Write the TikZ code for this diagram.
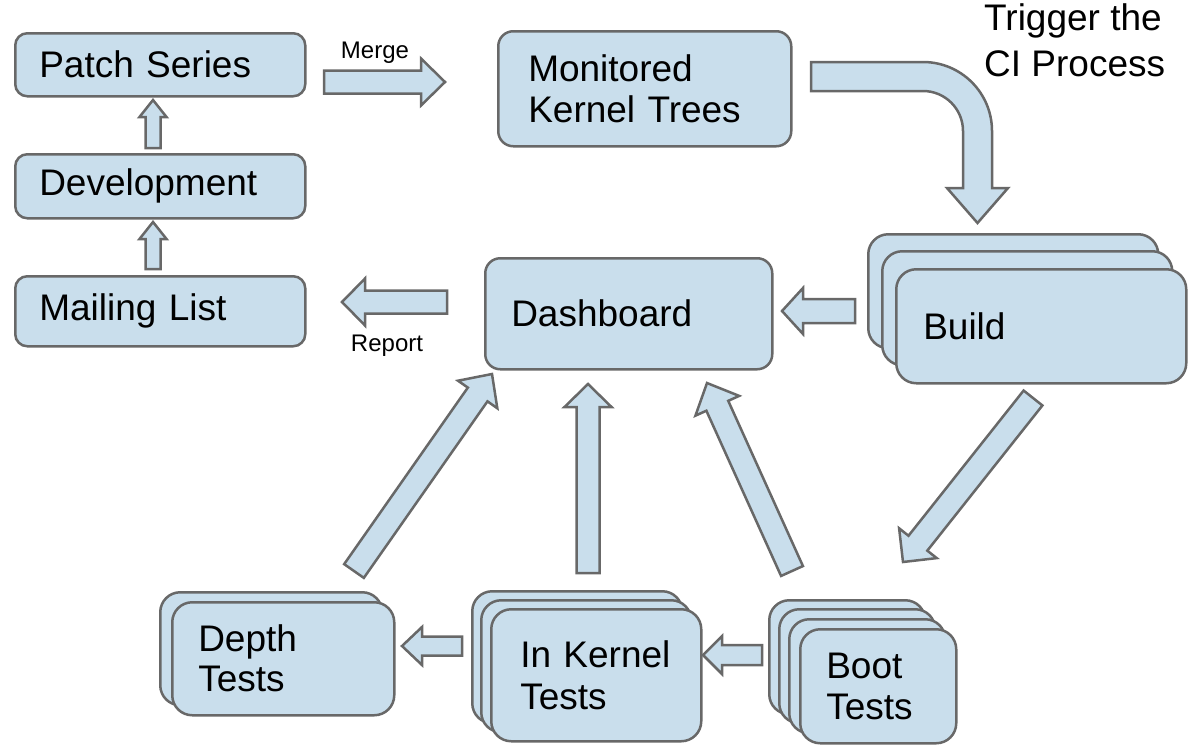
\documentclass[tikz,border=0pt]{standalone}
\usepackage{fontspec}
\setmainfont{Liberation Sans}
\usetikzlibrary{calc}
\definecolor{boxfill}{RGB}{201,222,236}
\definecolor{boxline}{RGB}{104,104,104}
\tikzset{
  box/.style={draw=boxline, fill=boxfill, line width=2.5pt, rounded corners=12pt,
    inner ysep=0pt, anchor=north west, align=left, font=\fontsize{37}{41}\selectfont},
  stackbox/.style={box, rounded corners=20pt},
  fat/.style={draw=boxline, fill=boxfill, line width=2.5pt, line join=miter},
  lbl/.style={font=\fontsize{24}{28}\selectfont, inner sep=0pt},
}
% #1 tail, #2 tip, #3 shaft half width, #4 head half width, #5 head length
\newcommand{\fatarrow}[5]{%
  \coordinate (#1-base) at ($(#2)!#5pt!(#1)$);
  \path[fat] ($(#1)!#3pt!90:(#2)$) -- ($(#1-base)!#3pt!90:(#2)$)
    -- ($(#1-base)!#4pt!90:(#2)$) -- (#2) -- ($(#1-base)!#4pt!-90:(#2)$)
    -- ($(#1-base)!#3pt!-90:(#2)$) -- ($(#1)!#3pt!-90:(#2)$) -- cycle;
}
\begin{document}
\begin{tikzpicture}[x=1pt,y=-1pt]
\useasboundingbox (0,0) rectangle (1188,744);

% left column
\node[box, minimum height=63pt, inner xsep=24pt, text width=242pt] (ps) at (14,32) {Patch Series};
\node[box, minimum height=64pt, inner xsep=24pt, text width=242pt] (dev) at (14,153) {Development};
\node[box, minimum height=70pt, inner xsep=24pt, text width=242pt] (ml) at (14,275) {Mailing List};

% main boxes
\node[box, rounded corners=15pt, minimum height=115pt, inner xsep=30pt, text width=233pt] (mkt) at (497,30) {Monitored\\Kernel Trees};
\node[box, rounded corners=15pt, minimum height=111pt, inner xsep=26pt, text width=235pt] (dash) at (484,257) {Dashboard};

% Build stack
\node[stackbox, minimum height=114pt, inner xsep=0pt, text width=290pt] (b1) at (867,233) {};
\node[stackbox, minimum height=114pt, inner xsep=0pt, text width=290pt] (b2) at (881,250) {};
\node[stackbox, minimum height=114pt, inner xsep=27pt, text width=236pt] (build) at (895,268) {Build};

% Depth Tests stack
\node[stackbox, minimum height=113pt, inner xsep=0pt, text width=222pt] (d1) at (159,591) {};
\node[stackbox, minimum height=113pt, inner xsep=26pt, text width=170pt, font=\fontsize{37}{40}\selectfont] (depth) at (171,601) {Depth\\Tests};

% In Kernel Tests stack
\node[stackbox, minimum height=132pt, inner xsep=0pt, text width=210pt] (k1) at (471,590) {};
\node[stackbox, minimum height=132pt, inner xsep=0pt, text width=210pt] (k2) at (480,599) {};
\node[stackbox, minimum height=132pt, inner xsep=29pt, text width=152pt, font=\fontsize{37}{42}\selectfont] (ikt) at (490,608) {In Kernel\\Tests};

% Boot Tests stack
\node[stackbox, minimum height=114pt, inner xsep=0pt, text width=156pt] (t1) at (768,599) {};
\node[stackbox, minimum height=114pt, inner xsep=0pt, text width=156pt] (t2) at (778,608) {};
\node[stackbox, minimum height=114pt, inner xsep=0pt, text width=156pt] (t3) at (788,618) {};
\node[stackbox, minimum height=114pt, inner xsep=26pt, text width=104pt, font=\fontsize{37}{41}\selectfont] (boot) at (799,628) {Boot\\Tests};

% free text
\node[anchor=north west, inner sep=0pt, align=left, font=\fontsize{37}{46}\selectfont] (trig) at (984,3) {Trigger the\\CI Process};
\node[lbl] (merge) at (375,53) {Merge};
\node[lbl] (report) at (387,346) {Report};

% arrow end points
\coordinate (a1t) at (153,148); \coordinate (a1h) at (153,100);
\coordinate (a2t) at (153,269); \coordinate (a2h) at (153,222);
\coordinate (mt) at (324,82);  \coordinate (mh) at (445,82);
\coordinate (rt) at (447,302); \coordinate (rh) at (342,302);
\coordinate (bdt) at (855,311); \coordinate (bdh) at (782,311);
\coordinate (bbt) at (1033,398); \coordinate (bbh) at (903,562);
\coordinate (dlt) at (354,571); \coordinate (dlh) at (492,374);
\coordinate (dmt) at (588,573); \coordinate (dmh) at (588,384);
\coordinate (drt) at (792,571); \coordinate (drh) at (707,383);
\coordinate (ikt-t) at (462,646); \coordinate (ikt-h) at (402,646);
\coordinate (btt) at (762,655); \coordinate (bth) at (703,655);

\fatarrow{a1t}{a1h}{7.5}{13.5}{17}
\fatarrow{a2t}{a2h}{7.5}{13.5}{17}
\fatarrow{mt}{mh}{11.5}{23.5}{24}
\fatarrow{rt}{rh}{11.5}{23.5}{23}
\fatarrow{bdt}{bdh}{12}{23}{21}
\fatarrow{bbt}{bbh}{12}{24}{24}
\fatarrow{dlt}{dlh}{12}{24}{25}
\fatarrow{dmt}{dmh}{11.5}{23.5}{23}
\fatarrow{drt}{drh}{12}{24}{25}
\fatarrow{ikt-t}{ikt-h}{9.5}{19}{20}
\fatarrow{btt}{bth}{10}{19}{19}

% curved trigger arrow
\path[fat] (811,62) -- (923,62) arc[start angle=-90, end angle=0, radius=69]
  -- (992,188) -- (1008,188) -- (977.5,223) -- (947,188) -- (963,188)
  -- (963,131) arc[start angle=0, end angle=-90, radius=40] -- (811,91) -- cycle;
\end{tikzpicture}
\end{document}
